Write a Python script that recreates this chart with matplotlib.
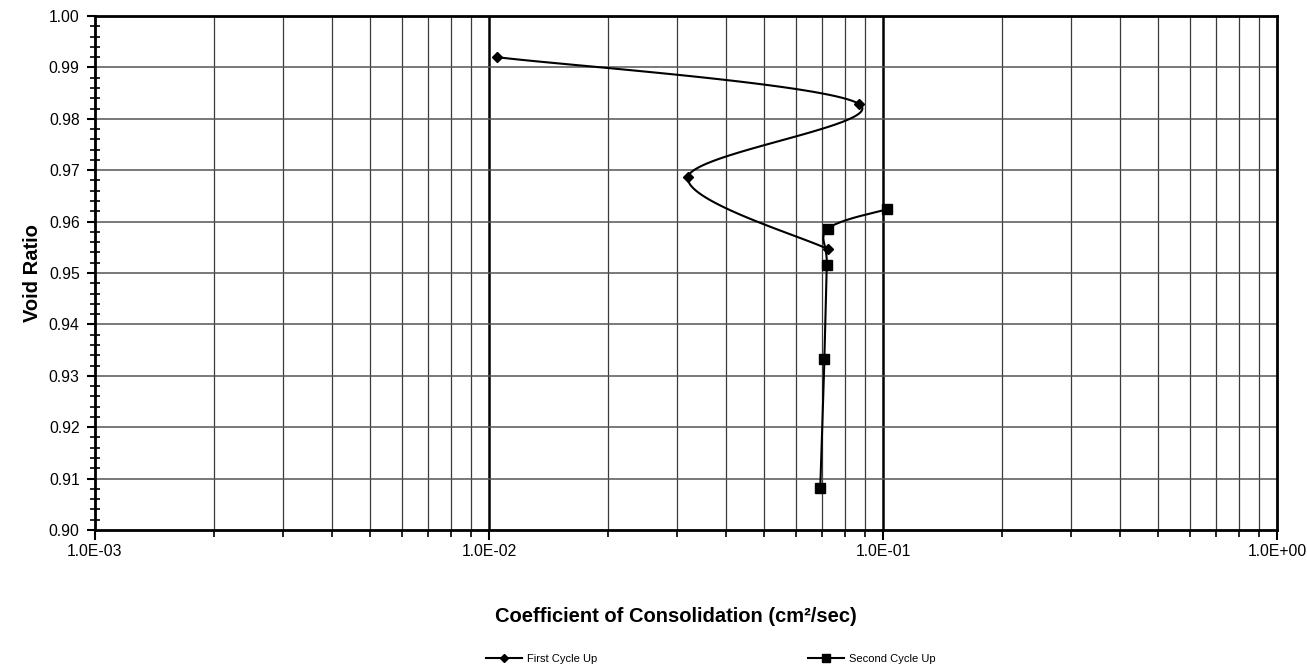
import numpy as np
import matplotlib
matplotlib.use("Agg")
import matplotlib.pyplot as plt
from matplotlib.ticker import LogLocator, FixedLocator, NullFormatter, FixedFormatter

plt.rcParams['font.family'] = ['Liberation Sans', 'DejaVu Sans']

# Coefficient of consolidation (cm^2/sec) vs void ratio
first_cv = [0.01048, 0.0869, 0.0320, 0.0726]
first_e = [0.9920, 0.9829, 0.9687, 0.9546]

second_cv = [0.1022, 0.0725, 0.0720, 0.0710, 0.0693]
second_e = [0.9624, 0.9586, 0.9516, 0.9332, 0.9082]

x_ticks = [1e-3, 1e-2, 1e-1, 1e0]
x_tick_labels = ["1.0E-03", "1.0E-02", "1.0E-01", "1.0E+00"]
y_ticks = [0.90, 0.91, 0.92, 0.93, 0.94, 0.95, 0.96, 0.97, 0.98, 0.99, 1.00]


def smooth(xs, ys, n=40):
    """Spreadsheet-style smoothed curve (Catmull-Rom Bezier) in log-x space."""
    px = np.log10(np.asarray(xs, float))
    py = np.asarray(ys, float)
    pts = np.column_stack([px, py])
    m = len(pts)
    out = [pts[0]]
    for i in range(m - 1):
        p0 = pts[i - 1] if i > 0 else pts[i]
        p1 = pts[i]
        p2 = pts[i + 1]
        p3 = pts[i + 2] if i + 2 < m else pts[i + 1]
        c1 = p1 + (p2 - p0) / 6.0
        c2 = p2 - (p3 - p1) / 6.0
        t = np.linspace(0, 1, n)[1:, None]
        seg = ((1 - t) ** 3) * p1 + 3 * ((1 - t) ** 2) * t * c1 + 3 * (1 - t) * t ** 2 * c2 + t ** 3 * p2
        out.extend(seg)
    out = np.array(out)
    return 10 ** out[:, 0], out[:, 1]


fig = plt.figure(figsize=(13.07, 6.70), dpi=100)
ax = fig.add_axes([95 / 1307, 1 - 530 / 670, (1277 - 95) / 1307, (530 - 16) / 670])

ax.set_xscale('log')
ax.set_xlim(1e-3, 1e0)
ax.set_ylim(0.90, 1.00)

# grid
for v in x_ticks[1:-1]:
    ax.axvline(v, color='black', lw=1.8, zorder=1)
for dec in [1e-3, 1e-2, 1e-1]:
    for k in range(2, 10):
        ax.axvline(dec * k, color='#3a3a3a', lw=0.9, zorder=1)
for yv in y_ticks[1:-1]:
    ax.axhline(yv, color='#555555', lw=1.1, zorder=1)

# curves
fx, fy = smooth(first_cv, first_e)
ax.plot(fx, fy, color='black', lw=1.5, zorder=3)
ax.plot(first_cv, first_e, ls='none', marker='D', ms=5, color='black', zorder=4)
sx, sy = smooth(second_cv, second_e)
ax.plot(sx, sy, color='black', lw=1.5, zorder=3)
ax.plot(second_cv, second_e, ls='none', marker='s', ms=7, color='black', zorder=4)

# axes styling
for s in ax.spines.values():
    s.set_linewidth(2.0)
    s.set_color('black')

ax.xaxis.set_major_locator(FixedLocator(x_ticks))
ax.xaxis.set_major_formatter(FixedFormatter(x_tick_labels))
ax.xaxis.set_minor_locator(LogLocator(base=10, subs=np.arange(2, 10), numticks=20))
ax.xaxis.set_minor_formatter(NullFormatter())
ax.tick_params(axis='x', which='major', direction='out', length=7, width=1.5, labelsize=11.3, pad=3)
ax.tick_params(axis='x', which='minor', direction='out', length=5, width=1.2)

ax.yaxis.set_major_locator(FixedLocator(y_ticks))
ax.set_yticklabels([f"{v:.2f}" for v in y_ticks])
ax.yaxis.set_minor_locator(FixedLocator(np.round(np.arange(0.90, 1.0001, 0.002), 3)))
ax.tick_params(axis='y', which='major', direction='out', length=6, width=1.5, labelsize=11.3, pad=5)
ax.tick_params(axis='y', which='minor', direction='inout', length=7, width=1.2)

ax.set_ylabel("Void Ratio", fontsize=14.5, fontweight='bold', labelpad=5)

fig.text(676 / 1307, 1 - 617 / 670, "Coefficient of Consolidation (cm²/sec)",
         ha='center', va='center', fontsize=14.5, fontweight='bold')

# legend
h1, = ax.plot([], [], color='black', lw=1.5, marker='D', ms=4)
h2, = ax.plot([], [], color='black', lw=1.5, marker='s', ms=5.5)
leg1 = fig.legend([h1], ["First Cycle Up"], loc='center left',
                  bbox_to_anchor=(480 / 1307, 1 - 659 / 670), frameon=False,
                  fontsize=8, handlelength=3.3, handletextpad=0.4, borderpad=0)
leg2 = fig.legend([h2], ["Second Cycle Up"], loc='center left',
                  bbox_to_anchor=(802 / 1307, 1 - 659 / 670), frameon=False,
                  fontsize=8, handlelength=3.3, handletextpad=0.4, borderpad=0)

fig.savefig("out.png", dpi=100)
